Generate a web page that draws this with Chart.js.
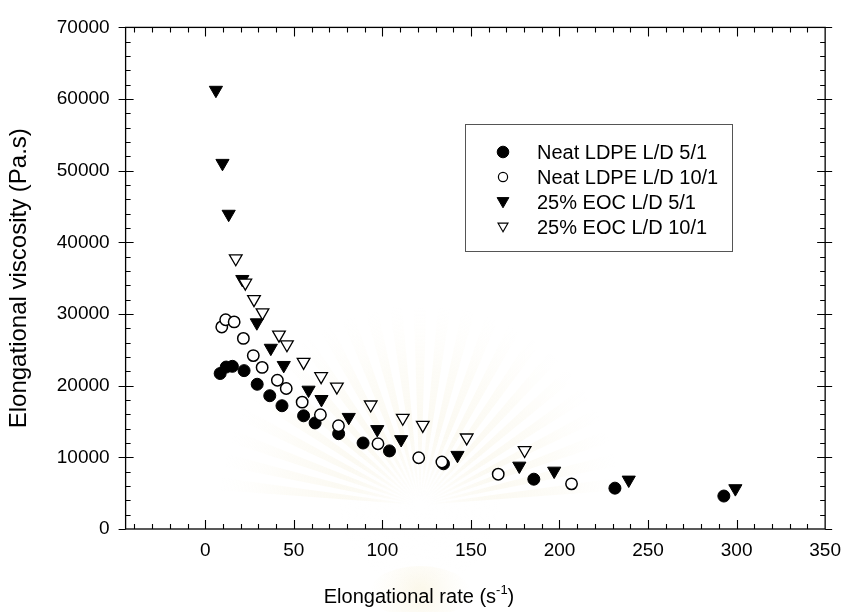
<!DOCTYPE html>
<html>
<head>
<meta charset="utf-8">
<script src="https://cdn.jsdelivr.net/npm/chart.js@4.4.1/dist/chart.umd.min.js"></script>
<style>
  html, body { margin: 0; padding: 0; background: #ffffff; }
  canvas { display: block; }
</style>
</head>
<body>
<canvas id="chart" width="851" height="612"></canvas>
<script>
// Elongational viscosity versus elongational rate, four capillary runs.
const seriesNames = [
  'Neat LDPE L/D 5/1',
  'Neat LDPE L/D 10/1',
  '25% EOC L/D 5/1',
  '25% EOC L/D 10/1'
];

// Neat LDPE, L/D 5/1
const neat51Rate = [8.4, 11.8, 15.3, 21.9, 29.3, 36.4, 43.3, 55.5, 62.0, 75.3, 89.1, 104.0, 134.5, 185.5, 231.3, 292.8];
const neat51Visc = [21700, 22600, 22700, 22100, 20200, 18600, 17200, 15800, 14800, 13300, 12000, 10900, 9100, 6950, 5700, 4600];

// Neat LDPE, L/D 10/1
const neat101Rate = [9.3, 11.5, 16.3, 21.5, 27.1, 32.1, 40.7, 45.7, 54.7, 65.0, 75.2, 97.5, 120.5, 133.6, 165.4, 206.8];
const neat101Visc = [28200, 29200, 28900, 26600, 24200, 22550, 20750, 19600, 17700, 15950, 14400, 11900, 9950, 9350, 7650, 6300];

// 25% EOC blend, L/D 5/1
const eoc51Rate = [6.0, 9.7, 13.2, 20.9, 29.1, 37.0, 44.3, 58.3, 65.6, 81.0, 97.1, 110.6, 142.4, 177.3, 197.0, 239.1, 299.3];
const eoc51Visc = [61250, 51050, 43950, 34850, 28800, 25250, 22850, 19400, 18100, 15600, 13900, 12500, 10300, 8800, 8100, 6850, 5650];

// 25% EOC blend, L/D 10/1
const eoc101Rate = [17.2, 22.6, 27.5, 32.3, 41.6, 46.1, 55.5, 65.4, 74.3, 93.4, 111.5, 122.8, 147.6, 180.3];
const eoc101Visc = [37750, 34350, 32050, 30200, 27100, 25750, 23300, 21300, 19850, 17350, 15500, 14500, 12750, 11000];

// Axis tick labels
const xTickValues = [0, 50, 100, 150, 200, 250, 300, 350];
const yTickValues = [0, 10000, 20000, 30000, 40000, 50000, 60000, 70000];

const FONT = "'Liberation Sans', Arial, Helvetica, sans-serif";

function toPoints(xs, ys) {
  return xs.map((x, i) => ({ x: x, y: ys[i] }));
}

// Draws a marker the same way Chart.js draws a dataset point.
function marker(ctx, style, x, y) {
  ctx.save();
  ctx.fillStyle = style.fill;
  ctx.strokeStyle = style.stroke;
  ctx.lineWidth = style.borderWidth;
  if (Chart.helpers && Chart.helpers.drawPoint) {
    Chart.helpers.drawPoint(ctx, {
      pointStyle: style.pointStyle,
      rotation: style.rotation,
      radius: style.radius,
      borderWidth: style.borderWidth
    }, x, y);
  }
  ctx.restore();
}

// Faint seal printed behind the plot (sunburst rays with a glow).
const sealPlugin = {
  id: 'sealPlugin',
  beforeDraw(chart) {
    const ctx = chart.ctx;
    const cx = 420, cy = 505;
    const R = 200;
    ctx.save();
    const grad = ctx.createRadialGradient(cx, cy, 40, cx, cy, R);
    grad.addColorStop(0, 'rgba(240, 232, 200, 0.30)');
    grad.addColorStop(0.6, 'rgba(244, 238, 212, 0.18)');
    grad.addColorStop(1, 'rgba(250, 246, 232, 0)');
    ctx.fillStyle = grad;
    for (let a = 186; a <= 354; a += 7) {
      const a0 = (a - 1.8) * Math.PI / 180;
      const a1 = (a + 1.8) * Math.PI / 180;
      ctx.beginPath();
      ctx.moveTo(cx, cy);
      ctx.arc(cx, cy, R, a0, a1);
      ctx.closePath();
      ctx.fill();
    }
    const glow = ctx.createRadialGradient(cx, cy, 5, cx, cy, 80);
    glow.addColorStop(0, 'rgba(255, 255, 255, 1)');
    glow.addColorStop(1, 'rgba(255, 255, 255, 0)');
    ctx.fillStyle = glow;
    ctx.beginPath();
    ctx.arc(cx, cy, 80, 0, Math.PI * 2);
    ctx.fill();
    const base = ctx.createRadialGradient(cx, 592, 5, cx, 592, 50);
    base.addColorStop(0, 'rgba(242, 230, 185, 0.28)');
    base.addColorStop(1, 'rgba(248, 240, 210, 0)');
    ctx.fillStyle = base;
    ctx.beginPath();
    ctx.ellipse(cx, 592, 50, 26, 0, 0, Math.PI * 2);
    ctx.fill();
    ctx.restore();
  }
};

// Box frame with inward ticks, legend box and the x-axis title.
const framePlugin = {
  id: 'framePlugin',
  afterDraw(chart) {
    const ctx = chart.ctx;
    const xs = chart.scales.x;
    const ys = chart.scales.y;
    const { left, right, top, bottom } = chart.chartArea;

    ctx.save();
    ctx.strokeStyle = '#000';
    ctx.lineWidth = 1.3;
    ctx.strokeRect(left, top, right - left, bottom - top);

    ctx.lineWidth = 1.1;
    ctx.beginPath();
    // x ticks: minor every 10, major every 50, pointing inward on top and bottom
    for (let v = -40; v <= 340; v += 10) {
      const px = Math.round(xs.getPixelForValue(v)) + 0.5;
      const major = v % 50 === 0;
      const len = major ? 9 : 5;
      ctx.moveTo(px, bottom); ctx.lineTo(px, bottom - len);
      ctx.moveTo(px, top); ctx.lineTo(px, top + len);
    }
    // y ticks: minor every 2000, major every 10000 crossing the frame
    for (let v = 2000; v < 70000; v += 2000) {
      const py = Math.round(ys.getPixelForValue(v)) + 0.5;
      const major = v % 10000 === 0;
      if (major) {
        ctx.moveTo(left - 7, py); ctx.lineTo(left + 8, py);
        ctx.moveTo(right - 8, py); ctx.lineTo(right + 7, py);
      } else {
        ctx.moveTo(left, py); ctx.lineTo(left + 5, py);
        ctx.moveTo(right, py); ctx.lineTo(right - 5, py);
      }
    }
    // outward stubs at 0 and 70000
    [0, 70000].forEach(v => {
      const py = Math.round(ys.getPixelForValue(v)) + 0.5;
      ctx.moveTo(left - 7, py); ctx.lineTo(left, py);
      ctx.moveTo(right, py); ctx.lineTo(right + 7, py);
    });
    ctx.stroke();

    // legend
    const lx = 465, ly = 124, lw = 267, lh = 127;
    ctx.fillStyle = '#fff';
    ctx.fillRect(lx, ly, lw, lh);
    ctx.strokeStyle = '#555';
    ctx.lineWidth = 1;
    ctx.strokeRect(lx + 0.5, ly + 0.5, lw, lh);

    const legendStyles = [
      { pointStyle: 'circle', rotation: 0, radius: 5.8, fill: '#000', stroke: '#000', borderWidth: 1 },
      { pointStyle: 'circle', rotation: 0, radius: 4.6, fill: '#fff', stroke: '#000', borderWidth: 1.2 },
      { pointStyle: 'triangle', rotation: 180, radius: 6.8, fill: '#000', stroke: '#000', borderWidth: 1 },
      { pointStyle: 'triangle', rotation: 180, radius: 5.8, fill: '#fff', stroke: '#000', borderWidth: 1.1 }
    ];
    ctx.font = '20px ' + FONT;
    ctx.textBaseline = 'middle';
    ctx.textAlign = 'left';
    seriesNames.forEach((name, i) => {
      const ry = 152 + i * 25;
      marker(ctx, legendStyles[i], 503, ry + (legendStyles[i].pointStyle === 'triangle' ? -1 : 0));
      ctx.fillStyle = '#000';
      ctx.fillText(name, 537, ry + 1);
    });

    // x-axis title with superscript unit
    const mainText = 'Elongational rate (s';
    const supText = '-1';
    const endText = ')';
    ctx.font = '20px ' + FONT;
    const w1 = ctx.measureText(mainText).width;
    const w3 = ctx.measureText(endText).width;
    ctx.font = '13px ' + FONT;
    const w2 = ctx.measureText(supText).width;
    const total = w1 + w2 + w3;
    let tx = 419 - total / 2;
    const base = 603;
    ctx.textBaseline = 'alphabetic';
    ctx.fillStyle = '#000';
    ctx.font = '20px ' + FONT;
    ctx.fillText(mainText, tx, base);
    tx += w1;
    ctx.font = '13px ' + FONT;
    ctx.fillText(supText, tx, base - 9);
    tx += w2;
    ctx.font = '20px ' + FONT;
    ctx.fillText(endText, tx, base);
    ctx.restore();
  }
};

Chart.defaults.font.family = FONT;
Chart.defaults.color = '#000';

new Chart(document.getElementById('chart'), {
  type: 'scatter',
  data: {
    datasets: [
      {
        label: seriesNames[0],
        data: toPoints(neat51Rate, neat51Visc),
        pointStyle: 'circle', pointRadius: 6, pointBorderWidth: 1,
        backgroundColor: '#000', borderColor: '#000', order: 4
      },
      {
        label: seriesNames[1],
        data: toPoints(neat101Rate, neat101Visc),
        pointStyle: 'circle', pointRadius: 5.7, pointBorderWidth: 1.5,
        backgroundColor: '#fff', borderColor: '#000', order: 2
      },
      {
        label: seriesNames[2],
        data: toPoints(eoc51Rate, eoc51Visc),
        pointStyle: 'triangle', rotation: 180, pointRadius: 7.6, pointBorderWidth: 1,
        backgroundColor: '#000', borderColor: '#000', order: 3
      },
      {
        label: seriesNames[3],
        data: toPoints(eoc101Rate, eoc101Visc),
        pointStyle: 'triangle', rotation: 180, pointRadius: 7.3, pointBorderWidth: 1.3,
        backgroundColor: '#fff', borderColor: '#000', order: 1
      }
    ]
  },
  options: {
    responsive: false,
    devicePixelRatio: 1,
    animation: false,
    events: [],
    layout: { padding: { left: 0, right: 19.3, top: 20.7, bottom: 0 } },
    plugins: { legend: { display: false }, tooltip: { enabled: false } },
    scales: {
      x: {
        type: 'linear',
        position: 'bottom',
        min: -45,
        max: 350,
        grid: { display: false, drawTicks: false },
        border: { display: false },
        ticks: { font: { size: 19 }, color: '#000', padding: 10, maxRotation: 0,
                 callback: (v) => String(v) },
        afterBuildTicks: (scale) => { scale.ticks = xTickValues.map(v => ({ value: v })); },
        afterFit: (scale) => { scale.height = 83; }
      },
      y: {
        type: 'linear',
        position: 'left',
        min: 0,
        max: 70000,
        grid: { display: false, drawTicks: false },
        border: { display: false },
        ticks: { font: { size: 19 }, color: '#000', padding: 16,
                 callback: (v) => String(v) },
        afterBuildTicks: (scale) => { scale.ticks = yTickValues.map(v => ({ value: v })); },
        afterFit: (scale) => { scale.width = 125.6; },
        title: {
          display: true,
          text: 'Elongational viscosity (Pa.s)',
          font: { size: 24 },
          color: '#000',
          padding: { top: 5, bottom: 0 }
        }
      }
    }
  },
  plugins: [sealPlugin, framePlugin]
});
</script>
</body>
</html>
